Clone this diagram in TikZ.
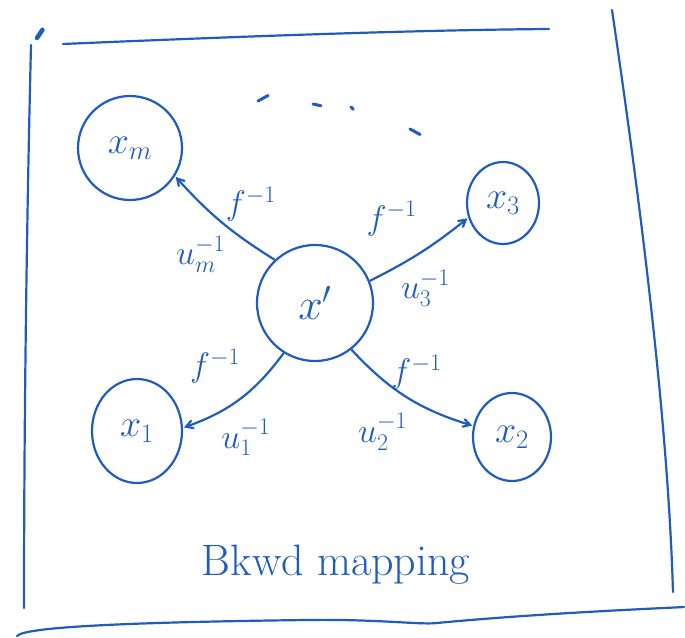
\RequirePackage{fix-cm}
\documentclass[tikz,border=0pt]{standalone}
\usepackage{amsmath}
\usepackage{tikz}
\usetikzlibrary{arrows}
\usetikzlibrary{shapes.geometric}

\definecolor{ink}{RGB}{32,92,188}

\begin{document}
\begin{tikzpicture}[x=1pt,y=-1pt,>=angle 60,shorten >=1pt,ink,line width=2.2pt,
  main node/.style={circle,draw,minimum size=116pt,inner sep=0pt,font=\fontsize{44}{48}\selectfont},
  side node/.style={ellipse,draw,inner sep=0pt,font=\fontsize{38}{42}\selectfont}]

  \useasboundingbox (0,0) rectangle (685,637);

  % frame
  \draw[line cap=round] (63,44) .. controls (250,36) and (420,30) .. (550,29);
  \draw[line cap=round] (31,45) .. controls (26,250) and (24,450) .. (24,609);
  \draw[line cap=round] (612,10) .. controls (640,200) and (668,420) .. (673,593);
  \draw[line cap=round] (17,636) .. controls (25,626) and (150,622) .. (306,620)
    .. controls (380,619) and (420,625) .. (437,623) .. controls (520,615) and (620,610) .. (685,607);
  \draw[line cap=round,line width=4.5pt] (37,38) -- (43,29);

  % the dots
  \draw[line cap=round,line width=3pt] (258,101) -- (269,95);
  \draw[line cap=round,line width=3pt] (313,104) -- (322,106);
  \draw[line cap=round,line width=3pt] (351,107) -- (354,110);
  \draw[line cap=round,line width=3pt] (410,129) -- (421,135);

  \node[main node] (xp) at (315,303) {$x'$};
  \node[side node,minimum width=104pt,minimum height=104pt] (xm) at (130,148) {$x_m$};
  \node[side node,minimum width=72pt,minimum height=82pt] (x3) at (503,203) {$x_3$};
  \node[side node,minimum width=90pt,minimum height=104pt] (x1) at (137,431) {$x_1$};
  \node[side node,minimum width=78pt,minimum height=88pt] (x2) at (512,437) {$x_2$};

  \path[->,every node/.style={font=\fontsize{34}{38}\selectfont}]
    (xp.133) edge[bend left=8] node[pos=0.5,above right,yshift=-4pt] {$f^{-1}$}
                               node[pos=0.5,below left,xshift=8pt,yshift=-10pt] {$u_m^{-1}$} (xm.-32)
    (xp.22) edge[bend right=6] node[pos=0.5,above left,yshift=12pt] {$f^{-1}$}
                               node[pos=0.55,below,yshift=-16pt] {$u_3^{-1}$} (x3.-157)
    (xp.-122) edge[bend left=17] node[pos=0.45,above left,yshift=8pt] {$f^{-1}$}
                                 node[pos=0.65,below right,xshift=-8pt,yshift=-6pt] {$u_1^{-1}$} (x1.4)
    (xp.-52) edge[bend right=15] node[pos=0.5,above,xshift=10pt,yshift=3pt] {$f^{-1}$}
                                 node[pos=0.5,below left,xshift=5pt,yshift=-12pt] {$u_2^{-1}$} (x2.164);

  \node[font=\fontsize{44}{50}\selectfont] (title) at (336,565) {Bkwd mapping};

\end{tikzpicture}
\end{document}
